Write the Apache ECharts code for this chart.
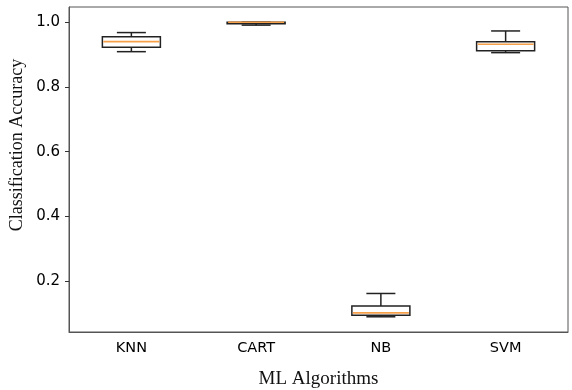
<!DOCTYPE html>
<html>
<head>
<meta charset="utf-8">
<script src="https://cdn.jsdelivr.net/npm/echarts@6/dist/echarts.min.js"></script>
<style>html,body{margin:0;padding:0;background:#fff}#c{width:572px;height:390px}</style>
</head>
<body>
<div id="c"></div>
<script>
const categories = ['KNN', 'CART', 'NB', 'SVM'];
const mins    = [0.909, 0.991, 0.090, 0.906];
const q1s     = [0.923, 0.995, 0.095, 0.912];
const medians = [0.940, 1.000, 0.102, 0.932];
const q3s     = [0.955, 1.000, 0.123, 0.940];
const maxs    = [0.968, 1.000, 0.162, 0.973];
const yTicks  = [0.2, 0.4, 0.6, 0.8, 1.0];

const boxData = categories.map((c, i) => [i, mins[i], q1s[i], medians[i], q3s[i], maxs[i]]);

const chart = echarts.init(document.getElementById('c'), null, {renderer: 'canvas'});
const lineC = '#222';
chart.setOption({
  animation: false,
  grid: {left: 69, top: 7, right: 4, bottom: 58, show: true, borderColor: '#555', borderWidth: 1,
    containLabel: false, outerBoundsMode: 'none'},
  xAxis: {
    type: 'category', data: categories, boundaryGap: true,
    name: 'ML Algorithms', nameLocation: 'middle', nameGap: 38,
    nameTextStyle: {fontFamily: 'Liberation Serif', fontSize: 19, color: '#111'},
    axisLine: {lineStyle: {color: '#555'}},
    axisTick: {alignWithLabel: true, length: 4, lineStyle: {color: '#333'}},
    axisLabel: {fontFamily: 'DejaVu Sans', fontSize: 14.5, color: '#000', margin: 9},
    splitLine: {show: false}
  },
  yAxis: {
    type: 'value', min: 0.043, max: 1.047,
    axisLine: {show: true, lineStyle: {color: '#555'}},
    axisTick: {show: true, length: 4, customValues: yTicks, lineStyle: {color: '#333'}},
    axisLabel: {fontFamily: 'DejaVu Sans', fontSize: 15, color: '#000', margin: 9,
      customValues: yTicks, formatter: v => v.toFixed(1)},
    splitLine: {show: false}
  },
  graphic: [{
    type: 'text', x: 17, y: 145, rotation: Math.PI / 2,
    style: {text: 'Classification Accuracy', fontFamily: 'Liberation Serif', fontSize: 18,
      fill: '#111', align: 'center', verticalAlign: 'middle'}
  }],
  series: [{
    type: 'custom',
    data: boxData,
    encode: {x: 0, y: [1, 2, 3, 4, 5]},
    renderItem: function (params, api) {
      const x = api.value(0);
      const pMin = api.coord([x, api.value(1)]);
      const pQ1 = api.coord([x, api.value(2)]);
      const pMed = api.coord([x, api.value(3)]);
      const pQ3 = api.coord([x, api.value(4)]);
      const pMax = api.coord([x, api.value(5)]);
      const bw = api.size([1, 0])[0] * 0.465;
      const h = bw / 2, ch = bw / 4;
      const cx = pMed[0];
      const ls = {stroke: lineC, lineWidth: 1.5, fill: null};
      return {
        type: 'group',
        children: [
          {type: 'line', shape: {x1: cx, y1: pQ3[1], x2: cx, y2: pMax[1]}, style: ls},
          {type: 'line', shape: {x1: cx, y1: pQ1[1], x2: cx, y2: pMin[1]}, style: ls},
          {type: 'line', shape: {x1: cx - ch, y1: pMax[1], x2: cx + ch, y2: pMax[1]}, style: ls},
          {type: 'line', shape: {x1: cx - ch, y1: pMin[1], x2: cx + ch, y2: pMin[1]}, style: ls},
          {type: 'rect', shape: {x: cx - h, y: pQ3[1], width: bw, height: pQ1[1] - pQ3[1]}, style: ls},
          {type: 'line', shape: {x1: cx - h + 1, y1: pMed[1], x2: cx + h - 1, y2: pMed[1]},
            style: {stroke: '#f7a04a', lineWidth: 1.6}}
        ]
      };
    }
  }]
});
</script>
</body>
</html>
